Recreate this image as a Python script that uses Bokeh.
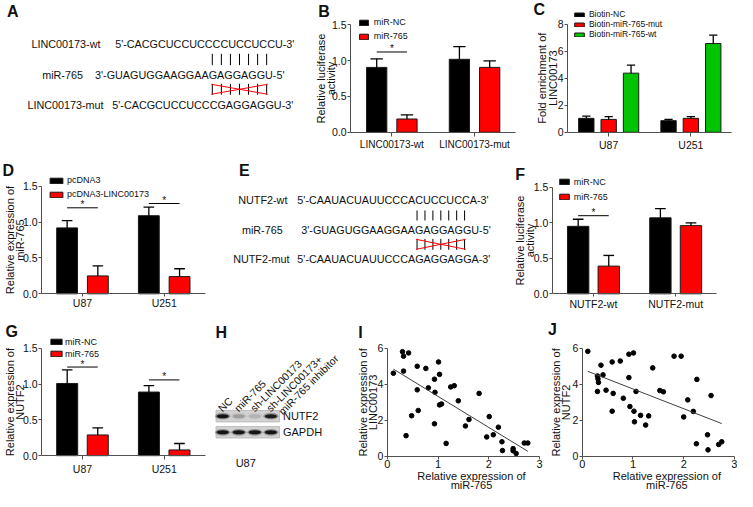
import numpy as np
from math import pi
from bokeh.plotting import figure
from bokeh.layouts import row, column
from bokeh.models import (ColumnDataSource, Range1d, Legend, LegendItem, FixedTicker,
                          PrintfTickFormatter)
from bokeh.core.properties import value
from bokeh.embed import file_html
from bokeh.resources import INLINE

# ---------------- data ----------------
# A
a_labels = ["LINC00173-wt", "miR-765", "LINC00173-mut"]
a_seqs = ["5'-CACGCUCCUCCCCUCCUCCU-3'", "3'-GUAGUGGAAGGAAGAGGAGGU-5'",
          "5'-CACGCUCCUCCCGAGGAGGU-3'"]
# B
b_groups = ["LINC00173-wt", "LINC00173-mut"]
b_series = ["miR-NC", "miR-765"]
b_mirnc = [0.905, 1.018]
b_mirnc_sd = [0.12, 0.176]
b_mir765 = [0.185, 0.905]
b_mir765_sd = [0.058, 0.09]
b_sig = [(0, 1.12)]
# C
c_groups = ["U87", "U251"]
c_series = ["Biotin-NC", "Biotin-miR-765-mut", "Biotin-miR-765-wt"]
c_nc = [1.03, 0.86]
c_nc_sd = [0.16, 0.09]
c_mut = [0.95, 1.03]
c_mut_sd = [0.2, 0.12]
c_wt = [4.37, 6.56]
c_wt_sd = [0.59, 0.62]
# D
d_groups = ["U87", "U251"]
d_series = ["pcDNA3", "pcDNA3-LINC00173"]
d_pcdna = [0.92, 1.09]
d_pcdna_sd = [0.10, 0.12]
d_linc = [0.25, 0.24]
d_linc_sd = [0.14, 0.11]
d_sig = [(0, 1.20), (1, 1.26)]
# E
e_labels = ["NUTF2-wt", "miR-765", "NUTF2-mut"]
e_seqs = ["5'-CAAUACUAUUCCCACUCCUCCA-3'", "3'-GUAGUGGAAGGAAGAGGAGGU-5'",
          "5'-CAAUACUAUUCCCAGAGGAGGA-3'"]
# F
f_groups = ["NUTF2-wt", "NUTF2-mut"]
f_series = ["miR-NC", "miR-765"]
f_mirnc = [0.95, 1.07]
f_mirnc_sd = [0.10, 0.13]
f_mir765 = [0.39, 0.96]
f_mir765_sd = [0.15, 0.04]
f_sig = [(0, 1.10)]
# G
g_groups = ["U87", "U251"]
g_series = ["miR-NC", "miR-765"]
g_mirnc = [1.01, 0.89]
g_mirnc_sd = [0.19, 0.09]
g_mir765 = [0.29, 0.08]
g_mir765_sd = [0.10, 0.09]
g_sig = [(0, 1.24), (1, 1.06)]
# H
h_lanes = ["NC", "miR-765", "sh-LINC00173", "sh-LINC00173+\nmiR-765 inhibitor"]
h_proteins = ["NUTF2", "GAPDH"]
h_nutf2 = [1.0, 0.22, 0.12, 0.95]
h_gapdh = [1.0, 1.0, 1.0, 1.0]
h_cell = "U87"
# I
i_mir765 = [0.12, 0.30, 0.32, 0.42, 0.32, 0.37, 0.59, 0.59, 0.61, 0.48, 0.76, 0.81,
            0.93, 0.94, 0.93, 1.01, 1.03, 1.03, 1.07, 1.16, 1.25, 1.32, 1.40, 1.54,
            1.61, 1.81, 1.96, 2.01, 2.09, 2.19, 2.26, 2.27, 2.48, 2.48, 2.54, 2.70, 2.77]
i_linc = [4.62, 5.82, 5.57, 5.75, 4.74, 1.15, 5.01, 3.70, 2.55, 2.26, 4.89, 3.81,
          4.29, 3.56, 1.81, 5.25, 4.56, 2.86, 2.91, 0.72, 3.86, 3.93, 3.09, 1.69,
          2.05, 3.50, 1.08, 2.21, 1.20, 1.62, 0.81, 0.32, 0.43, 0.31, 0.16, 0.74, 0.74]
# J
j_mir765 = [0.11, 0.30, 0.31, 0.32, 0.37, 0.41, 0.30, 0.47, 0.59, 0.61, 0.59, 0.75,
            0.81, 0.92, 1.01, 0.92, 0.94, 1.02, 1.03, 1.06, 1.15, 1.25, 1.31, 1.39,
            1.53, 1.60, 1.81, 1.95, 2.00, 2.08, 2.19, 2.26, 2.25, 2.47, 2.48, 2.54,
            2.69, 2.75]
j_nutf2 = [5.84, 4.47, 4.31, 4.11, 5.07, 4.53, 3.61, 3.68, 5.25, 3.50, 2.51, 5.30,
           3.23, 5.68, 5.75, 4.38, 2.77, 2.51, 1.92, 3.61, 2.28, 1.74, 2.25, 4.92,
           3.66, 3.59, 5.57, 5.57, 2.19, 3.14, 2.50, 4.28, 0.70, 1.20, 0.36, 3.38,
           0.66, 0.81]

BLACK = "#000000"
RED = "#ff0000"
GREEN = "#00c400"

# ---------------- layout helpers ----------------
FONT = "Liberation Sans"
AX = "#505050"
TXT = "#111111"
SX = 737 / 753
SY = 491 / 507


def L(x):
    return int(round(x * SX))


def T(y):
    return int(round(y * SY))


class Mapper:
    """maps reference-picture pixel positions to a panel's data coordinates"""

    def __init__(self, box, frame, dx, dy):
        x0, y0, x1, y1 = box
        fx0, fy0, fx1, fy1 = frame
        self.box = box
        self.W = L(x1) - L(x0)
        self.H = T(y1) - T(y0)
        self.kx = (dx[1] - dx[0]) / ((fx1 - fx0) * SX)
        self.ky = (dy[1] - dy[0]) / ((fy1 - fy0) * SY)
        self.xa = dx[0] - (fx0 - x0) * SX * self.kx
        self.ya = dy[0] - (y1 - fy1) * SY * self.ky
        self.xb = self.xa + self.W * self.kx
        self.yb = self.ya + self.H * self.ky

    def x(self, rx):
        return self.xa + (rx - self.box[0]) * SX * self.kx

    def y(self, ry):
        return self.ya + (self.box[3] - ry) * SY * self.ky

    def sx(self, rx):
        return (rx - self.box[0]) * SX

    def sy(self, ry):
        return (self.box[3] - ry) * SY


def make_fig(m):
    p = figure(width=m.W, height=m.H, x_range=Range1d(m.xa, m.xb), y_range=Range1d(m.ya, m.yb),
               output_backend="svg", toolbar_location=None, min_border=0)
    p.outline_line_color = None
    p.xgrid.visible = False
    p.ygrid.visible = False
    return p


def style_axes(p, xloc, yloc, xbounds, ybounds, xsize="10.5px", xstand=3, xtick=4):
    p.xaxis.fixed_location = xloc
    p.yaxis.fixed_location = yloc
    p.xaxis.bounds = xbounds
    p.yaxis.bounds = ybounds
    for ax in p.axis:
        ax.axis_line_color = AX
        ax.axis_line_width = 1
        ax.major_tick_line_color = AX
        ax.minor_tick_line_color = None
        ax.major_tick_in = 0
        ax.major_tick_out = 3
        ax.major_label_text_font = FONT
        ax.major_label_text_color = TXT
    p.xaxis.major_tick_out = xtick
    p.yaxis.major_label_text_font_size = "10.5px"
    p.yaxis.major_label_standoff = 1
    p.xaxis.major_label_text_font_size = xsize
    p.xaxis.major_label_standoff = xstand


def add_text(p, m, rx, ry, text, size="11px", angle=0.0, bold=False, align="center",
             baseline="middle"):
    p.text(x=[m.x(rx)], y=[m.y(ry)], text=[text], angle=angle, text_align=align,
           text_baseline=baseline, text_font=value(FONT), text_font_size=size,
           text_font_style="bold" if bold else "normal", text_color=TXT)


def bar_panel(box, frame, groups, series, vals, sds, colors, y_end, yticks, yfmt, offs, bw, capw,
              ylab, ylab_xs, letter, letter_xy, leg, sigs, xsize="10.5px", xstand=3, xtick=4):
    m = Mapper(box, frame, (-0.5, len(groups) - 0.5), (0, y_end))
    p = make_fig(m)
    style_axes(p, 0, -0.5, (-0.5, len(groups) - 0.5), (0, y_end), xsize, xstand, xtick)
    p.yaxis.ticker = FixedTicker(ticks=yticks)
    if yfmt:
        p.yaxis.formatter = PrintfTickFormatter(format=yfmt)
    p.xaxis.ticker = FixedTicker(ticks=list(range(len(groups))))
    p.xaxis.major_label_overrides = {i: g for i, g in enumerate(groups)}
    items = []
    gx = list(range(len(groups)))
    for s, v, e, c, o in zip(series, vals, sds, colors, offs):
        xc = [g + o for g in gx]
        up = [a + b for a, b in zip(v, e)]
        src = ColumnDataSource(dict(x=xc, top=v, up=up,
                                    cl=[x - capw / 2 for x in xc], cr=[x + capw / 2 for x in xc]))
        r = p.vbar(x="x", top="top", width=bw, source=src,
                   fill_color=c, line_color="#1a1a1a", line_width=1)
        p.segment(x0="x", y0="top", x1="x", y1="up", source=src, line_color="black", line_width=1.3)
        p.segment(x0="cl", y0="up", x1="cr", y1="up", source=src, line_color="black", line_width=1.3)
        items.append(LegendItem(label=s, renderers=[r]))
    for gi, h in sigs:
        p.segment(x0=[gi + offs[0]], x1=[gi + offs[1]], y0=[h], y1=[h], line_color="black",
                  line_width=1)
        p.text(x=[gi + (offs[0] + offs[1]) / 2], y=[h], text=["*"], text_align="center",
               text_baseline="middle", y_offset=-3, text_font=value(FONT), text_font_size="10px",
               text_color=TXT)
    lx, ltop, pitch, gw, gh, fs, stand = leg
    n = len(items)
    legend = Legend(items=items, location=(m.sx(lx), m.sy(ltop) - n * pitch),
                    orientation="vertical", glyph_width=gw, glyph_height=gh, label_height=pitch,
                    label_standoff=stand, spacing=0, padding=0, margin=0,
                    border_line_color=None, background_fill_alpha=0,
                    label_text_font=FONT, label_text_font_size=fs, label_text_color=TXT)
    p.add_layout(legend)
    ycen = (frame[1] + frame[3]) / 2
    for text, xl in zip(ylab, ylab_xs):
        add_text(p, m, xl, ycen, text, angle=pi / 2, baseline="alphabetic")
    add_text(p, m, letter_xy[0], letter_xy[1], letter, size="16px", bold=True)
    return p


def scatter_panel(box, frame, xs, ys, ylab, ylab_xs, xlab, xlab_x, xlab_ys, letter, letter_xy):
    m = Mapper(box, frame, (0, 3), (0, 6))
    p = make_fig(m)
    style_axes(p, 0, 0, (0, 3), (0, 6), "11px", 1, 3)
    p.xaxis.ticker = FixedTicker(ticks=[0, 1, 2, 3])
    p.yaxis.ticker = FixedTicker(ticks=[0, 2, 4, 6])
    p.scatter(xs, ys, size=4.6, fill_color="black", line_color="black")
    k, b = np.polyfit(np.array(xs), np.array(ys), 1)
    xx = [min(xs), max(xs)]
    p.line(xx, [k * x + b for x in xx], line_color="#404040", line_width=1)
    ycen = (frame[1] + frame[3]) / 2
    for text, xl in zip(ylab, ylab_xs):
        add_text(p, m, xl, ycen, text, angle=pi / 2, baseline="alphabetic")
    for text, yl in zip(xlab, xlab_ys):
        add_text(p, m, xlab_x, yl, text)
    add_text(p, m, letter_xy[0], letter_xy[1], letter, size="16px", bold=True)
    return p


def text_fig(box):
    p = figure(width=L(box[2]) - L(box[0]), height=T(box[3]) - T(box[1]),
               x_range=Range1d(box[0], box[2]), y_range=Range1d(box[3], box[1]),
               x_axis_type=None, y_axis_type=None, output_backend="svg",
               toolbar_location=None, min_border=0)
    p.outline_line_color = None
    return p


def seq_panel(box, labels, label_x, seqs, seq_x, ys, px0, pdx, py1, py2, letter, letter_xy):
    p = text_fig(box)
    p.text(x=label_x, y=ys, text=labels, text_align="center", text_baseline="middle",
           text_font=value(FONT), text_font_size="10.8px", text_color=TXT)
    p.text(x=seq_x, y=ys, text=seqs, text_align="left", text_baseline="middle",
           text_font=value(FONT), text_font_size="10.8px", text_color=TXT)
    xs = [px0 + pdx * k for k in range(7)]
    p.segment(x0=xs, x1=xs, y0=[py1[0]] * 7, y1=[py1[1]] * 7, line_color="black", line_width=1)
    p.segment(x0=xs, x1=xs, y0=[py2[0]] * 7, y1=[py2[1]] * 7, line_color="black", line_width=1)
    p.segment(x0=[xs[0] - 1, xs[0] - 1], y0=[py2[0] + 0.5, py2[1] - 0.5],
              x1=[xs[-1] + 1, xs[-1] + 1], y1=[py2[1] - 0.5, py2[0] + 0.5],
              line_color=RED, line_width=1)
    p.text(x=[letter_xy[0]], y=[letter_xy[1]], text=[letter], text_align="center",
           text_baseline="middle", text_font=value(FONT), text_font_size="16px",
           text_font_style="bold", text_color=TXT)
    return p


# ---------------- panels ----------------
pA = seq_panel((0, 0, 310, 160), a_labels, [67, 63.5, 66.5], a_seqs, [117.3, 96.7, 114.3],
               [45, 76.7, 108.3], 216.7, 9.27, (55, 66.7), (86, 97.3), "A", (12.5, 11))

pB = bar_panel((310, 0, 535, 160), (358, 25, 527, 136), b_groups, b_series,
               [b_mirnc, b_mir765], [b_mirnc_sd, b_mir765_sd], [BLACK, RED], 1.5,
               [0, 0.5, 1.0, 1.5], "%.1f", [-0.183, 0.183], 0.245, 0.15,
               ["Relative luciferase", "activity"], [328, 338.5], "B", (331, 11),
               (366, 15.5, 14, 11, 7, "9px", 5), b_sig, xsize="10px", xstand=3)

pC = bar_panel((535, 0, 753, 160), (579, 24.3, 747, 136), c_groups, c_series,
               [c_nc, c_mut, c_wt], [c_nc_sd, c_mut_sd, c_wt_sd], [BLACK, RED, GREEN], 8,
               [0, 2, 4, 6, 8], None, [-0.272, 0.0, 0.272], 0.187, 0.1,
               ["Fold enrichment of", "LINC00173"], [553, 564], "C", (550, 9.5),
               (585, 9.3, 10, 12, 5, "8.5px", 4), [], xsize="10.5px", xstand=3)

pD = bar_panel((0, 160, 236, 322), (42, 191.7, 209, 302.7), d_groups, d_series,
               [d_pcdna, d_linc], [d_pcdna_sd, d_linc_sd], [BLACK, RED], 1.5,
               [0, 0.5, 1.0, 1.5], "%.1f", [-0.188, 0.188], 0.255, 0.13,
               ["Relative expression of", "miR-765"], [9.5, 20], "D", (8, 175),
               (49, 178.5, 14, 16, 7, "9px", 3), d_sig, xsize="10.5px", xstand=0, xtick=3)

pE = seq_panel((236, 160, 510, 322), e_labels, [268, 267.5, 266.5], e_seqs,
               [303.3, 307.3, 303.3], [205.7, 236.7, 267], 425.7, 8.1, (216.7, 227),
               (246, 257.3), "E", (249, 175))

pF = bar_panel((510, 160, 753, 322), (564, 192.7, 732, 302.7), f_groups, f_series,
               [f_mirnc, f_mir765], [f_mirnc_sd, f_mir765_sd], [BLACK, RED], 1.5,
               [0, 0.5, 1.0, 1.5], "%.1f", [-0.186, 0.186], 0.26, 0.13,
               ["Relative luciferase", "activity"], [530.5, 541.5], "F", (531, 180),
               (570, 179.8, 15, 12, 7, "9px", 4), f_sig, xsize="10.5px", xstand=1, xtick=3)

pG = bar_panel((0, 322, 212, 507), (42, 359.3, 209, 470), g_groups, g_series,
               [g_mirnc, g_mir765], [g_mirnc_sd, g_mir765_sd], [BLACK, RED], 1.5,
               [0, 0.5, 1.0, 1.5], "%.1f", [-0.187, 0.187], 0.257, 0.13,
               ["Relative expression of", "NUTF2"], [9.5, 20], "G", (11.5, 341.5),
               (50, 346.5, 12, 14, 7, "9px", 2), g_sig, xsize="10.5px", xstand=3)

# H : western blot
hbox = (212, 322, 362, 507)
pH = text_fig(hbox)
lane_x = [227.5 + 16.4 * i for i in range(len(h_lanes))]
row_y = [429.2, 445.8]
for ry in row_y:
    pH.quad(left=[220.7], right=[285.5], top=[ry - 5.9], bottom=[ry + 5.9],
            fill_color="#d2d2d2", line_color="#b4b4b4", line_width=0.8)
for ry, inten in zip(row_y, [h_nutf2, h_gapdh]):
    pH.ellipse(x=lane_x, y=[ry] * 4, width=15.5, height=7, fill_color="#202020",
               fill_alpha=[0.35 * a for a in inten], line_color=None)
    pH.ellipse(x=lane_x, y=[ry] * 4, width=12.5, height=4.2, fill_color="#0d0d0d",
               fill_alpha=[0.95 * a for a in inten], line_color=None)
pH.text(x=[289] * 2, y=row_y, text=h_proteins, text_align="left", text_baseline="middle",
        text_font=value(FONT), text_font_size="11px", text_color=TXT)
lab_x, lab_y, lab_t = [], [], []
for lx, lt in zip(lane_x, h_lanes):
    parts = lt.split("\n")
    lab_x.append(lx - 3)
    lab_y.append(422.5)
    lab_t.append(parts[0])
    if len(parts) > 1:
        lab_x.append(lx + 9.5)
        lab_y.append(425.5)
        lab_t.append(parts[1])
pH.text(x=lab_x, y=lab_y, text=lab_t, angle=pi / 4, text_align="left",
        text_baseline="alphabetic", text_font=value(FONT), text_font_size="10.5px",
        text_color=TXT)
pH.text(x=[251], y=[478], text=[h_cell], text_align="center", text_baseline="middle",
        text_font=value(FONT), text_font_size="11px", text_color=TXT)
pH.text(x=[226], y=[343], text=["H"], text_align="center", text_baseline="middle",
        text_font=value(FONT), text_font_size="16px", text_font_style="bold", text_color=TXT)

pI = scatter_panel((362, 322, 558, 507), (395.5, 359.3, 551, 470.7), i_mir765, i_linc,
                   ["Relative expression of", "LINC00173"], [370.5, 381],
                   ["Relative expression of", "miR-765"], 481.5, [490.5, 500.5],
                   "I", (368, 343))
pJ = scatter_panel((558, 322, 753, 507), (594.5, 359.3, 750, 470.7), j_mir765, j_nutf2,
                   ["Relative expression of", "NUTF2"], [567.5, 578],
                   ["Relative expression of", "miR-765"], 681, [490.5, 500.5],
                   "J", (564, 340))

layout = column(row(pA, pB, pC, spacing=0), row(pD, pE, pF, spacing=0),
                row(pG, pH, pI, pJ, spacing=0), spacing=0)

open("out.html", "w").write(file_html(layout, INLINE))
